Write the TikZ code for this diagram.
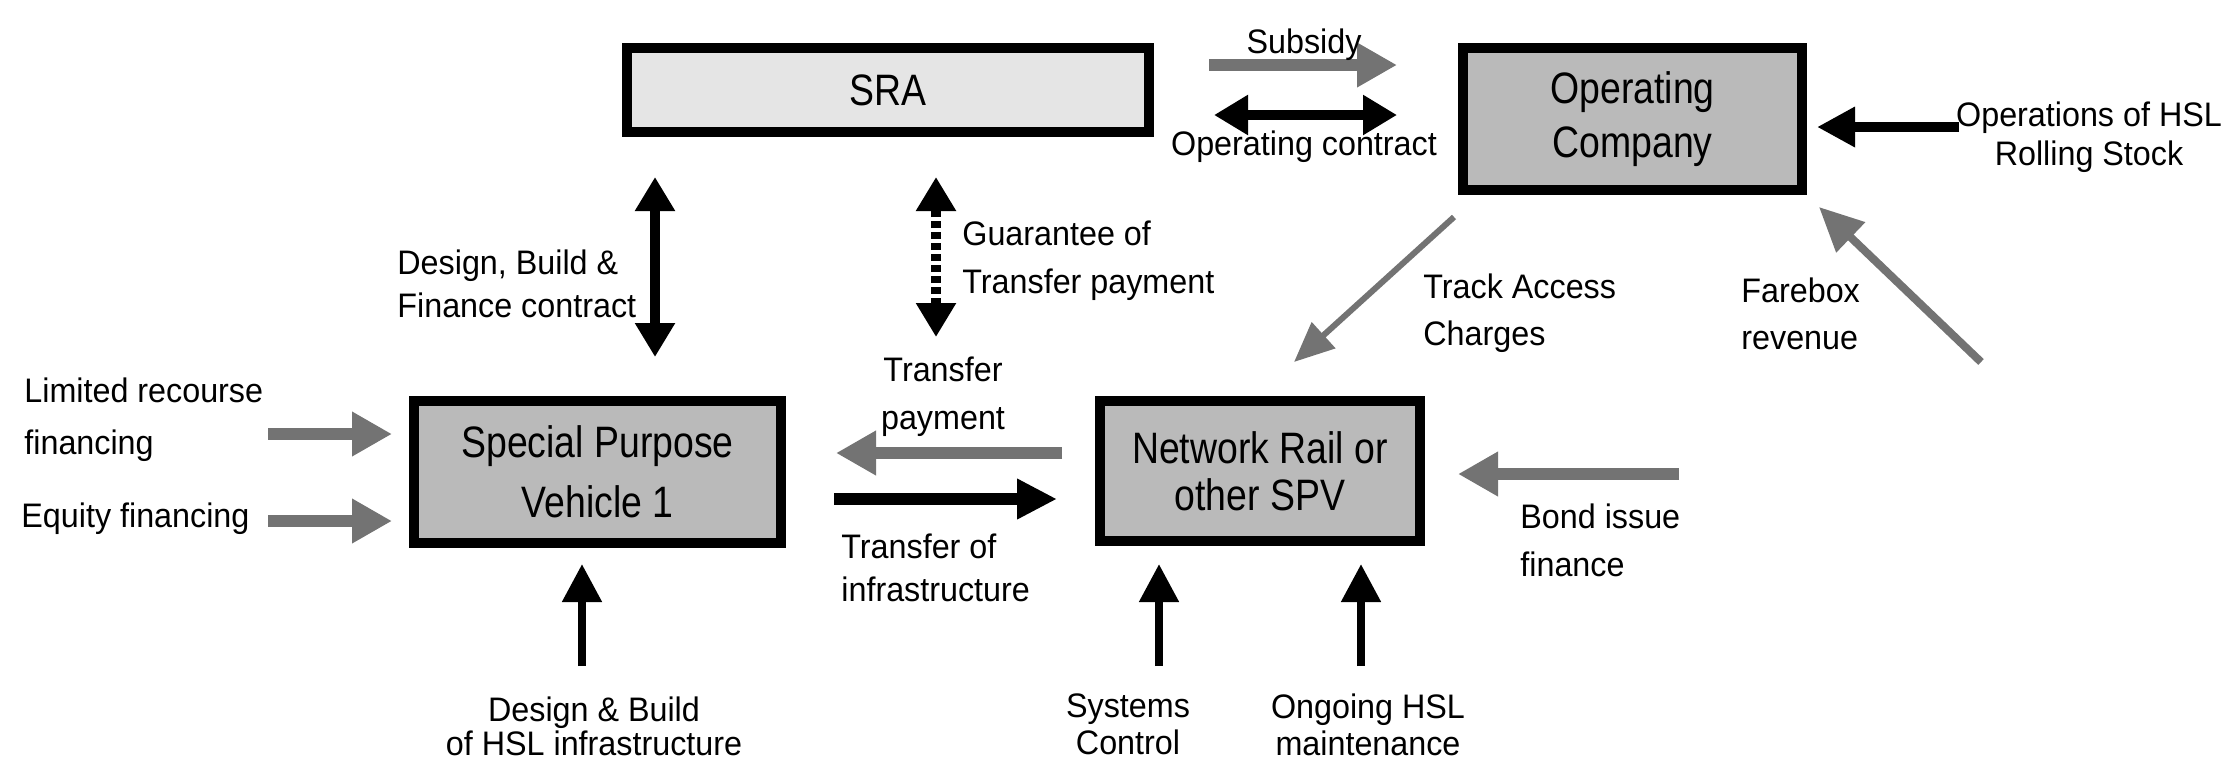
\documentclass[tikz,border=0pt]{standalone}
\usepackage{fontspec}
\setmainfont{Liberation Sans}
\newfontfamily\partyfont[FakeStretch=0.85]{Liberation Sans}
\newfontfamily\flowfont[FakeStretch=0.95]{Liberation Sans}
\usetikzlibrary{arrows.meta}
\tikzset{
	party/.style={draw, line width=5pt, fill=black!27, align=center, inner sep=0pt,
		font=\partyfont\fontsize{22}{27}\selectfont}, % the boxes for the parties
	lbl/.style={font=\flowfont\fontsize{17}{#1}\selectfont, inner sep=0pt}, % text next to the arrows
	lbl/.default=22pt,
	grayflow/.style={draw=black!55, line width=6pt, -{Triangle[length=20pt,width=21pt]}}, % money
	blackflow/.style={draw=black, line width=6pt, -{Triangle[length=20pt,width=19pt]}},
	thinflow/.style={draw=black, line width=4pt, -{Triangle[length=19pt,width=19pt]}},
	twoway/.style={draw=black, line width=5pt, {Triangle[length=17pt,width=19pt]}-{Triangle[length=17pt,width=19pt]}}, % contracts
}

\begin{document}
\begin{tikzpicture}[x=0.5pt, y=-0.5pt]
	\useasboundingbox (0,0) rectangle (2227,762);

	% The four parties
	\node[party, fill=black!10, minimum width=261pt, minimum height=42pt] (SRA) at (888,90) {SRA};
	\node[party, minimum width=169.5pt, minimum height=71pt] (OpCompany) at (1632.5,119) {Operating\\Company};
	\node[party, minimum width=183.5pt, minimum height=71pt, font=\partyfont\fontsize{22}{30}\selectfont] (SPV) at (597.5,472) {Special Purpose\\Vehicle 1};
	\node[party, minimum width=160pt, minimum height=70pt, font=\partyfont\fontsize{22}{23.5}\selectfont] (NetworkRail) at (1260,471) {Network Rail or\\other SPV};

	%% SRA and the operator
	\draw[grayflow, shorten <=27.5pt, shorten >=30.5pt] ([yshift=12.5pt]SRA.east) -- ([yshift=27pt]OpCompany.west);
	\node[lbl] (Subsidy) at (1304,45) {Subsidy};
	\draw[twoway, shorten <=30pt, shorten >=30.5pt] ([yshift=-12.5pt]SRA.east) -- ([yshift=2pt]OpCompany.west);
	\node[lbl] (OpContract) at (1304,147) {Operating contract};

	\coordinate (RollingTail) at (1959,127);
	\draw[thinflow, line width=5pt, shorten >=5pt] (RollingTail) -- (RollingTail -| OpCompany.east);
	\node[lbl=19.5pt, align=center] (Rolling) at (2089,137.5) {Operations of HSL\\Rolling Stock};

	%% SRA and the SPV
	\draw[twoway, shorten <=20pt, shorten >=19.5pt] ([xshift=16.5pt]SRA.south west) -- ([xshift=123pt]SPV.north west);
	\node[lbl=21.5pt, align=left, anchor=west] (DBFContract) at (397,283.5) {Design, Build \&\\Finance contract};

	\coordinate (GuaranteeTip) at (936,337);
	\draw[twoway, dash pattern=on 3.5pt off 2pt, shorten >=20pt] (GuaranteeTip) -- (GuaranteeTip |- SRA.south);
	\node[lbl=24pt, align=left, anchor=west] (Guarantee) at (962,261) {Guarantee of\\Transfer payment};

	%% Funding of the SPV
	\coordinate (LimitedTail) at (268,434);
	\coordinate (EquityTail) at (268,521);
	\draw[grayflow, shorten >=8.5pt] (LimitedTail) -- (LimitedTail -| SPV.west);
	\draw[grayflow, shorten >=8.5pt] (EquityTail) -- (EquityTail -| SPV.west);
	\node[lbl=26pt, align=left, anchor=west] (Limited) at (24,420) {Limited recourse\\financing};
	\node[lbl, anchor=west] (Equity) at (21,519) {Equity financing};

	\coordinate (BuildTail) at (582,666);
	\draw[thinflow, shorten >=8pt] (BuildTail) -- (BuildTail |- SPV.south);
	\node[lbl=17pt, align=center] (DesignBuild) at (594,726) {Design \& Build\\of HSL infrastructure};

	%% SPV and Network Rail
	\draw[grayflow, shorten <=16.5pt, shorten >=25pt] ([yshift=9pt]NetworkRail.west) -- ([yshift=9.5pt]SPV.east);
	\node[lbl=24pt, align=center] (TransferPay) at (943,397) {Transfer\\payment};
	\draw[blackflow, shorten <=24pt, shorten >=19pt] ([yshift=-13.5pt]SPV.east) -- ([yshift=-14pt]NetworkRail.west);
	\node[lbl=21.5pt, align=left, anchor=west] (TransferInfra) at (841,567.5) {Transfer of\\infrastructure};

	%% Network Rail and the operator
	\draw[draw=black!55, line width=3pt, -{Triangle[length=20pt,width=17pt]}] ([shift={(-2pt,-11pt)}]OpCompany.south west) -- ([shift={(17pt,17pt)}]NetworkRail.north);
	\node[lbl=23.5pt, align=left, anchor=west] (TrackAccess) at (1423,313.5) {Track Access\\Charges};

	\coordinate (FareboxTail) at (1981,362);
	\draw[draw=black!55, line width=4pt, -{Triangle[length=22pt,width=20pt]}] (FareboxTail) -- ([shift={(6pt,-6pt)}]OpCompany.south east);
	\node[lbl=23.5pt, align=left, anchor=west] (Farebox) at (1741,313.5) {Farebox\\revenue};

	\coordinate (BondTail) at (1679,474);
	\draw[grayflow, shorten >=16.5pt] (BondTail) -- (BondTail -| NetworkRail.east);
	\node[lbl=24pt, align=left, anchor=west] (Bond) at (1520,540) {Bond issue\\finance};

	\coordinate (SystemsTail) at (1159,666);
	\coordinate (UpkeepTail) at (1361,666);
	\draw[thinflow, shorten >=9pt] (SystemsTail) -- (SystemsTail |- NetworkRail.south);
	\draw[thinflow, shorten >=9pt] (UpkeepTail) -- (UpkeepTail |- NetworkRail.south);
	\node[lbl=18.5pt, align=center] (Systems) at (1128,724.5) {Systems\\Control};
	\node[lbl=18.5pt, align=center] (Upkeep) at (1368,724.5) {Ongoing HSL\\maintenance};
\end{tikzpicture}
\end{document}
